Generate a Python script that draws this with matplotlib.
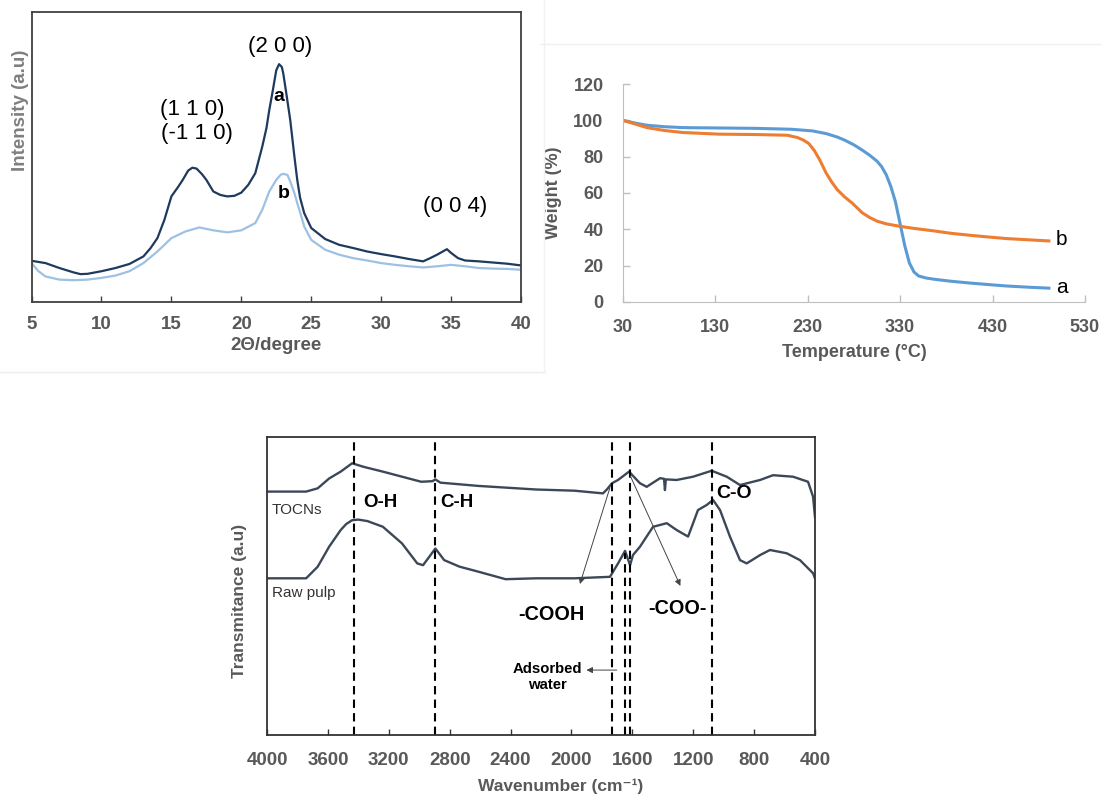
import matplotlib.pyplot as plt
from matplotlib.lines import Line2D

plt.rcParams['font.family'] = ['Liberation Sans', 'DejaVu Sans']

# XRD patterns (2theta in degrees, intensity in arbitrary units)
xrd_angle_a = [5, 6, 7, 8, 8.5, 9, 10, 11, 12, 13, 13.5, 14, 14.5, 15, 15.5, 15.8, 16.2, 16.5, 16.8, 17.2,
               17.5, 18, 18.5, 19, 19.5, 20, 20.5, 21, 21.5, 21.8, 22, 22.2, 22.5, 22.7, 22.9, 23, 23.2, 23.5, 23.8, 24,
               24.2, 24.5, 25, 26, 27, 28, 29, 30, 31, 32, 33, 33.5, 34, 34.7, 35, 35.5, 36, 37, 38, 39, 40]
xrd_int_a = [14.2, 13.4, 11.7, 10.2, 9.6, 9.7, 10.6, 11.7, 13.1, 15.7, 18.5, 22.0, 28.3, 36.4, 39.8, 42.0, 45.3, 46.3, 46.0, 44.0,
             42.1, 38.1, 36.9, 36.4, 36.6, 37.7, 40.4, 44.4, 53.6, 60.0, 66.2, 71.5, 79.9, 82.0, 81.0, 78.8, 72.5, 62.7, 50.0, 42.1,
             36.0, 30.6, 25.5, 21.7, 19.7, 18.6, 17.4, 16.5, 15.7, 14.8, 14.0, 15.1, 16.3, 18.2, 16.9, 15.1, 14.3, 14.0, 13.6, 13.2, 12.6]
xrd_angle_b = [5, 5.5, 6, 7, 8, 9, 10, 11, 12, 13, 14, 15, 16, 17, 18, 19, 20, 21, 21.5, 22,
               22.5, 22.8, 23, 23.3, 23.5, 23.8, 24, 24.2, 24.5, 25, 26, 27, 28, 29, 30, 31, 32, 33, 34, 35,
               36, 37, 38, 39, 40]
xrd_int_b = [13.4, 10.6, 8.8, 7.7, 7.5, 7.7, 8.3, 9.1, 10.6, 13.4, 17.4, 22.0, 24.3, 25.7, 24.7, 24.0, 24.7, 27.2, 31.8, 38.1,
             42.1, 43.8, 44.2, 43.8, 41.5, 37.5, 34.1, 31.0, 26.0, 21.4, 18.0, 16.3, 15.1, 14.3, 13.4, 12.8, 12.3, 11.9, 12.3, 12.8,
             12.3, 11.7, 11.5, 11.4, 11.1]
xrd_ticks = [5, 10, 15, 20, 25, 30, 35, 40]

# TGA curves (temperature in C, weight in %)
tga_temp_a = [30, 45, 56, 75, 95, 134, 173, 212, 235, 250, 262, 270, 280, 289, 297, 305, 310, 315, 320, 325,
              330, 335, 340, 345, 350, 358, 367, 385, 406, 425, 445, 470, 491]
tga_weight_a = [100, 98.3, 97.3, 96.5, 96.0, 95.8, 95.6, 95.1, 94.2, 92.7, 90.8, 89.1, 86.5, 83.6, 80.8, 77.5, 74.5, 70.0, 63.5, 55.0,
                43.0, 31.0, 21.5, 16.5, 14.3, 13.2, 12.5, 11.4, 10.4, 9.6, 8.8, 8.1, 7.6]
tga_temp_b = [30, 45, 56, 75, 95, 134, 173, 208, 219, 225, 231, 237, 243, 250, 256, 262, 270, 278, 289, 297,
              305, 315, 328, 345, 367, 385, 406, 425, 445, 470, 491]
tga_weight_b = [100, 97.7, 96.0, 94.4, 93.3, 92.4, 92.2, 91.8, 90.5, 89.2, 87.3, 83.5, 78.2, 70.9, 66.0, 61.8, 57.8, 54.5, 49.1, 46.5,
                44.5, 43.0, 41.8, 40.5, 39.1, 37.8, 36.7, 35.8, 34.9, 34.2, 33.6]
tga_xticks = [30, 130, 230, 330, 430, 530]
tga_yticks = [0, 20, 40, 60, 80, 100, 120]

# FTIR spectra (wavenumber in cm-1, transmittance in arbitrary units)
ftir_wn_tocn = [4000, 3743, 3667, 3592, 3516, 3441, 3365, 3239, 3113, 2987, 2912, 2895, 2861, 2610, 2232, 1980, 1793, 1766, 1734, 1694,
                1622, 1550, 1506, 1418, 1392, 1386, 1380, 1309, 1201, 1079, 980, 893, 761, 676, 545, 446, 413, 400]
ftir_t_tocn = [81.7, 81.7, 82.8, 86.1, 88.4, 91.2, 90.0, 88.4, 86.7, 85.0, 85.2, 85.8, 84.7, 83.6, 82.4, 82.0, 81.1, 82.5, 84.5, 85.6,
               88.4, 84.5, 83.3, 86.2, 86.0, 82.2, 85.8, 85.6, 86.7, 88.7, 86.7, 83.9, 85.6, 87.2, 86.7, 85.0, 80.0, 73.0]
ftir_wn_raw = [4000, 3743, 3667, 3592, 3516, 3480, 3441, 3400, 3340, 3239, 3113, 3013, 2975, 2894, 2836, 2735, 2610, 2433, 2232, 1980,
               1747, 1694, 1648, 1615, 1596, 1550, 1464, 1418, 1374, 1309, 1234, 1201, 1169, 1112, 1070, 1024, 959, 893, 849, 761,
               696, 586, 499, 413, 400]
ftir_t_raw = [52.6, 52.6, 56.5, 63.2, 68.8, 70.8, 72.1, 72.3, 71.8, 69.9, 64.3, 57.6, 57.0, 62.6, 58.7, 56.5, 54.8, 52.3, 52.6, 52.6,
              53.1, 57.6, 61.8, 57.0, 60.4, 63.2, 69.9, 70.5, 71.1, 68.8, 66.6, 71.1, 75.5, 77.2, 78.9, 75.5, 66.6, 58.7, 57.6, 60.4,
              62.1, 61.0, 58.7, 54.3, 52.5]
ftir_peaks = [3430, 2895, 1735, 1615, 1075]
ftir_water_peak = 1648
ftir_xticks = [4000, 3600, 3200, 2800, 2400, 2000, 1600, 1200, 800, 400]

tick_grey = '#595959'

fig = plt.figure(figsize=(11.02, 7.98), dpi=100)

# faint borders left over from the pasted panels
fig.add_artist(Line2D([0, 0.495], [0.534, 0.534], color='#ededed', lw=1))
fig.add_artist(Line2D([0.494, 0.494], [0.534, 1.0], color='#f2f2f2', lw=1))
fig.add_artist(Line2D([0.49, 1.0], [0.945, 0.945], color='#f0f0f0', lw=1))

# ---- XRD ----
ax1 = fig.add_axes([0.0286, 0.6216, 0.4442, 0.3634])
ax1.plot(xrd_angle_b, xrd_int_b, color='#9dc1e3', lw=1.6)
ax1.plot(xrd_angle_a, xrd_int_a, color='#1e3a5c', lw=1.6)
ax1.set_xlim(5, 40)
ax1.set_ylim(0, 100)
ax1.set_xticks(xrd_ticks)
ax1.set_yticks([])
ax1.tick_params(axis='x', direction='in', length=4, width=1, color='#404040', pad=10,
                labelsize=13.5, labelcolor=tick_grey)
for lab in ax1.get_xticklabels():
    lab.set_fontweight('bold')
for sp in ax1.spines.values():
    sp.set_color('#404040')
    sp.set_linewidth(1.3)
ax1.set_xlabel('2Θ/degree', fontsize=13.5, fontweight='bold', color=tick_grey, labelpad=3)
ax1.set_ylabel('Intensity (a.u)', fontsize=13.5, fontweight='bold', color='#7f7f7f')
ax1.yaxis.set_label_coords(-0.006, 0.66)
ax1.text(22.8, 88, '(2 0 0)', fontsize=16, ha='center', va='center')
ax1.text(16.5, 66.5, '(1 1 0)', fontsize=16, ha='center', va='center')
ax1.text(16.8, 58, '(-1 1 0)', fontsize=16, ha='center', va='center')
ax1.text(35.3, 33, '(0 0 4)', fontsize=16, ha='center', va='center')
ax1.text(22.7, 70.8, 'a', fontsize=14, fontweight='bold', ha='center', va='center')
ax1.text(23.0, 37.5, 'b', fontsize=14, fontweight='bold', ha='center', va='center')

# ---- TGA ----
ax2 = fig.add_axes([0.5653, 0.6216, 0.4192, 0.2731])
ax2.plot(tga_temp_a, tga_weight_a, color='#5b9bd5', lw=2.2)
ax2.plot(tga_temp_b, tga_weight_b, color='#ed7d31', lw=2.2)
ax2.set_xlim(30, 530)
ax2.set_ylim(0, 120)
ax2.set_xticks(tga_xticks)
ax2.set_yticks(tga_yticks)
ax2.tick_params(direction='in', length=5, width=1, color='#bfbfbf', labelsize=13, labelcolor=tick_grey)
ax2.tick_params(axis='x', pad=12)
ax2.tick_params(axis='y', pad=14)
for lab in ax2.get_xticklabels() + ax2.get_yticklabels():
    lab.set_fontweight('bold')
ax2.spines['top'].set_visible(False)
ax2.spines['right'].set_visible(False)
ax2.spines['left'].set_color('#bfbfbf')
ax2.spines['bottom'].set_color('#bfbfbf')
ax2.set_xlabel('Temperature (°C)', fontsize=13, fontweight='bold', color=tick_grey, labelpad=6)
ax2.set_ylabel('Weight (%)', fontsize=13, fontweight='bold', color=tick_grey, labelpad=8)
ax2.text(505, 34.5, 'b', fontsize=15, ha='center', va='center')
ax2.text(505, 8.2, 'a', fontsize=15, ha='center', va='center')

# ---- FTIR ----
ax3 = fig.add_axes([0.2423, 0.0789, 0.4973, 0.3734])
ax3.plot(ftir_wn_tocn, ftir_t_tocn, color='#3c4858', lw=1.7)
ax3.plot(ftir_wn_raw, ftir_t_raw, color='#3c4858', lw=1.7)
for wn in ftir_peaks:
    ax3.axvline(wn, color='black', lw=1.5, dashes=(4, 2.5))
ax3.plot([ftir_water_peak, ftir_water_peak], [0, 61], color='black', lw=1.5, dashes=(4, 2.5))
ax3.set_xlim(4000, 400)
ax3.set_ylim(0, 100)
ax3.set_xticks(ftir_xticks)
ax3.set_yticks([])
ax3.tick_params(axis='x', direction='in', length=4, width=1, color='#333333', pad=12,
                labelsize=13.5, labelcolor=tick_grey)
for lab in ax3.get_xticklabels():
    lab.set_fontweight('bold')
for sp in ax3.spines.values():
    sp.set_color('#333333')
    sp.set_linewidth(1.3)
ax3.set_xlabel('Wavenumber (cm⁻¹)', fontsize=12.5, fontweight='bold', color=tick_grey)
ax3.xaxis.set_label_coords(0.535, -0.145)
ax3.set_ylabel('Transmitance (a.u)', fontsize=12.5, fontweight='bold', color=tick_grey)
ax3.yaxis.set_label_coords(-0.037, 0.45)

ax3.text(3969, 75.5, 'TOCNs', fontsize=11, color='#333333', va='center')
ax3.text(3969, 47.8, 'Raw pulp', fontsize=11, color='#333333', va='center')
ax3.text(3365, 78.2, 'O-H', fontsize=13.5, fontweight='bold', va='center')
ax3.text(2862, 78.0, 'C-H', fontsize=13.5, fontweight='bold', va='center')
ax3.text(1052, 81.2, 'C-O', fontsize=14, fontweight='bold', va='center')
ax3.text(2131, 40.3, '-COOH', fontsize=14.3, fontweight='bold', ha='center', va='center')
ax3.text(1301, 42.5, '-COO-', fontsize=14.3, fontweight='bold', ha='center', va='center')
ax3.text(2157, 19.5, 'Adsorbed\nwater', fontsize=10.7, fontweight='bold', ha='center', va='center',
         linespacing=1.25)

arrow = dict(arrowstyle='-|>', color='#444444', lw=0.7, mutation_scale=9)
ax3.annotate('', xy=(1950, 49.8), xytext=(1742, 83.9), arrowprops=arrow)
ax3.annotate('', xy=(1277, 49.2), xytext=(1621, 87.8), arrowprops=arrow)
ax3.annotate('', xy=(1920, 21.8), xytext=(1684, 21.8), arrowprops=arrow)

fig.savefig('out.png', dpi=100)
